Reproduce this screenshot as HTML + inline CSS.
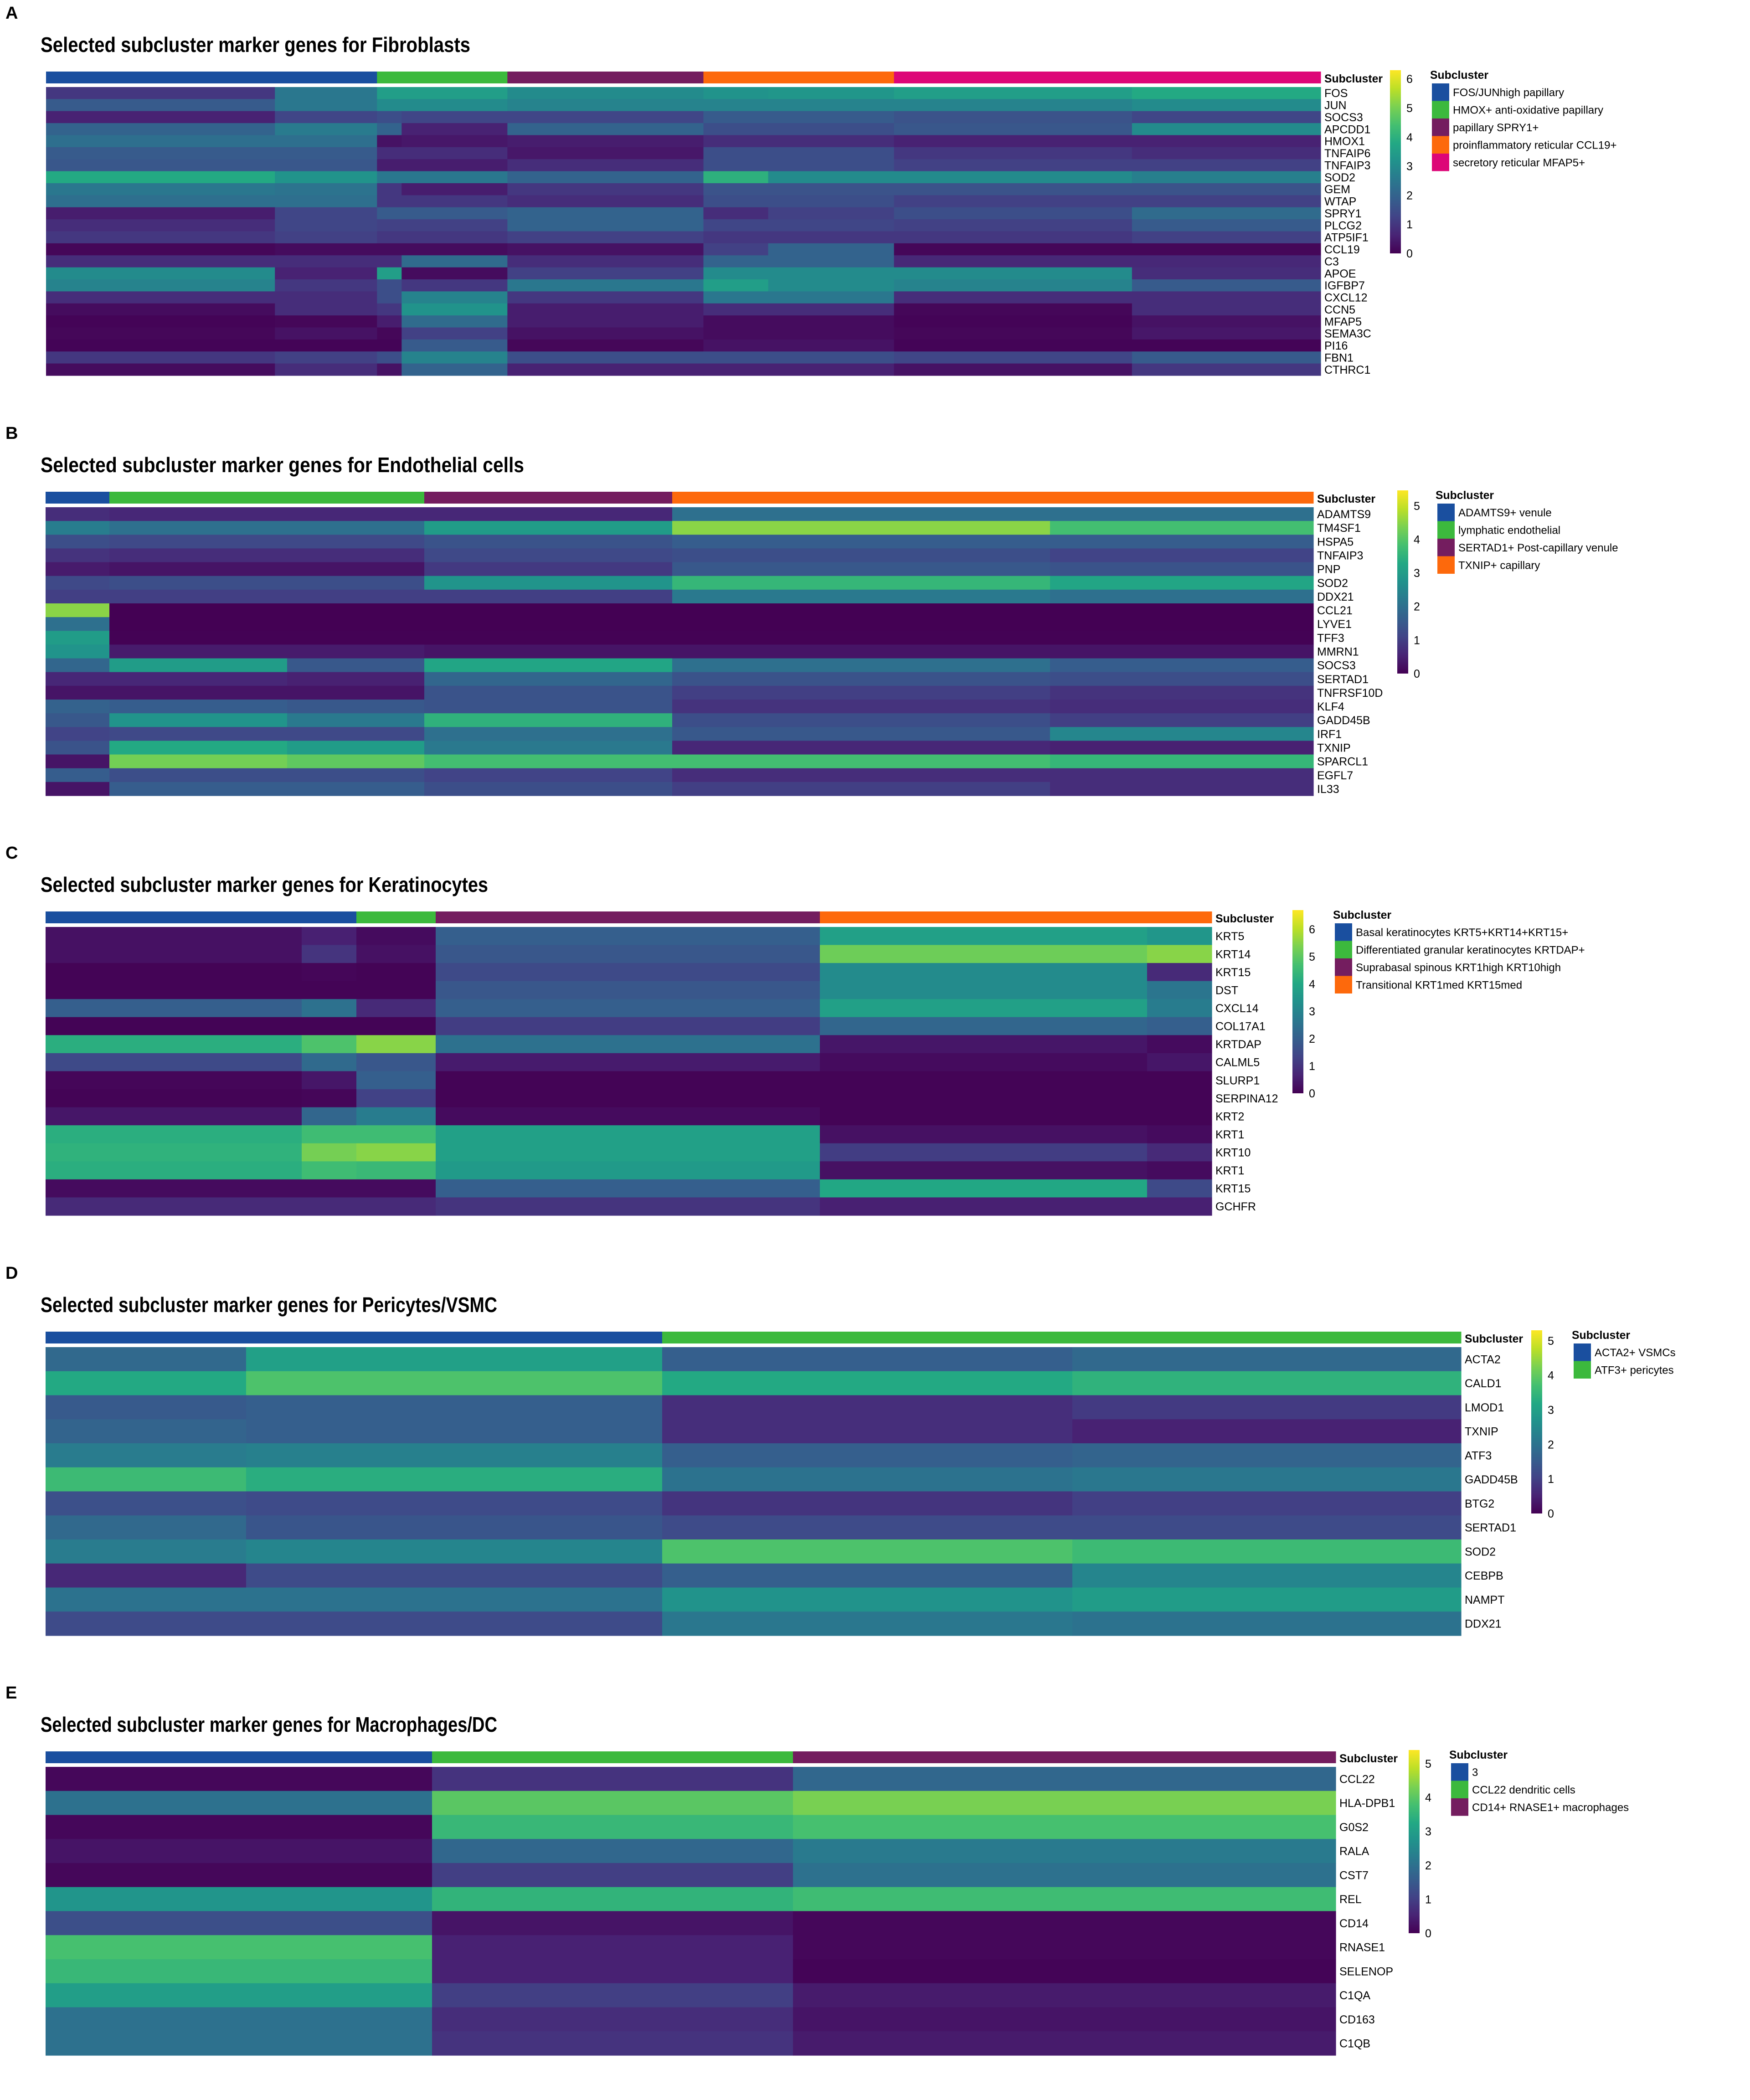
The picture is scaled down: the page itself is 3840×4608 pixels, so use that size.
<!DOCTYPE html>
<html><head><meta charset="utf-8"><style>
html,body{margin:0;padding:0;background:#fff;}
svg{display:block;font-family:"Liberation Sans",Arial,sans-serif;}
</style></head><body>
<svg id="fig" width="3840" height="4608" viewBox="0 0 3840 4608" xmlns="http://www.w3.org/2000/svg">
<defs>
<linearGradient id="viridis" x1="0" y1="1" x2="0" y2="0">
<stop offset="0" stop-color="#440154"/><stop offset="0.1" stop-color="#482475"/><stop offset="0.2" stop-color="#414487"/><stop offset="0.3" stop-color="#355f8d"/><stop offset="0.4" stop-color="#2a788e"/><stop offset="0.5" stop-color="#21918c"/><stop offset="0.6" stop-color="#22a884"/><stop offset="0.7" stop-color="#44bf70"/><stop offset="0.8" stop-color="#7ad151"/><stop offset="0.9" stop-color="#bddf26"/><stop offset="1" stop-color="#fde725"/>
</linearGradient>
</defs>
</svg>
<script>
// ---------- Panel A: Fibroblasts ----------
const fibGenes = ["FOS","JUN","SOCS3","APCDD1","HMOX1","TNFAIP6","TNFAIP3","SOD2","GEM","WTAP","SPRY1","PLCG2","ATP5IF1","CCL19","C3","APOE","IGFBP7","CXCL12","CCN5","MFAP5","SEMA3C","PI16","FBN1","CTHRC1"];
const fibClusters = ["FOS/JUNhigh papillary","HMOX+ anti-oxidative papillary","papillary SPRY1+","proinflammatory  reticular CCL19+","secretory reticular MFAP5+"];
const fibSegCells = [502,224,54,232,430,142,276,522,414];
const fibSegCluster = [0,0,1,1,2,3,3,4,4];
const fibValues = [
[1.0,2.5,3.5,3.5,3.0,3.2,3.3,3.5,3.8],
[1.8,2.5,3.0,3.0,2.8,2.8,2.8,2.8,3.0],
[0.6,1.3,1.5,1.3,1.3,1.8,1.8,1.6,1.3],
[2.0,2.6,2.0,0.6,2.0,1.5,1.5,1.7,3.0],
[2.3,2.3,0.3,0.4,0.5,0.8,0.8,0.6,0.6],
[1.8,1.8,0.8,0.8,0.4,1.5,1.5,1.0,0.8],
[1.7,1.7,0.5,0.5,0.8,1.5,1.5,1.2,1.2],
[3.8,3.2,2.5,2.5,2.0,4.0,3.0,3.0,2.7],
[2.5,2.4,1.0,0.5,1.0,1.6,1.6,1.6,1.6],
[2.3,2.3,1.0,1.0,0.8,1.5,1.5,1.2,1.2],
[0.5,1.3,1.8,1.8,2.0,0.8,1.2,1.5,2.2],
[0.8,1.3,1.2,1.2,2.0,1.3,1.3,1.2,1.8],
[1.0,1.2,1.0,1.0,1.2,1.0,1.0,1.0,1.2],
[0.1,0.2,0.2,0.2,0.3,1.2,2.0,0.1,0.1],
[0.8,0.8,0.8,2.2,0.8,2.0,2.0,0.7,0.7],
[3.0,0.6,3.5,0.2,1.2,3.0,3.0,3.0,0.8],
[2.8,1.0,1.5,1.0,2.5,3.5,3.0,2.8,1.8],
[0.8,0.8,1.5,2.8,1.0,2.5,2.5,0.8,0.8],
[0.2,0.8,1.0,3.2,0.5,0.8,0.8,0.1,0.8],
[0.05,0.1,0.5,2.2,0.5,0.2,0.2,0.05,0.3],
[0.1,0.3,0.1,1.2,0.3,0.2,0.2,0.1,0.4],
[0.05,0.05,0.05,1.8,0.1,0.3,0.3,0.05,0.05],
[1.0,1.2,1.5,2.8,1.5,1.5,1.5,1.3,1.8],
[0.2,0.8,0.3,2.0,0.6,0.6,0.6,0.3,1.0]];
const fibTicks = [0,1,2,3,4,5,6];

// ---------- Panel B: Endothelial ----------
const endGenes = ["ADAMTS9","TM4SF1","HSPA5","TNFAIP3","PNP","SOD2","DDX21","CCL21","LYVE1","TFF3","MMRN1","SOCS3","SERTAD1","TNFRSF10D","KLF4","GADD45B","IRF1","TXNIP","SPARCL1","EGFL7","IL33"];
const endClusters = ["ADAMTS9+ venule","lymphatic endothelial","SERTAD1+ Post-capillary venule","TXNIP+ capillary"];
const endSegCells = [140,390,301,544,829,578];
const endSegCluster = [0,1,1,2,3,3];
const endValues = [
[0.7,0.6,0.6,0.6,2.0,2.0],
[2.3,2.0,2.0,3.0,4.5,3.8],
[1.3,1.2,1.2,1.4,1.6,1.6],
[0.8,0.7,0.7,1.2,1.3,1.1],
[0.4,0.3,0.3,0.9,1.5,1.4],
[1.2,1.3,1.3,2.8,3.6,3.2],
[1.0,1.0,1.0,1.0,2.2,2.0],
[4.5,0.0,0.0,0.0,0.0,0.0],
[2.0,0.0,0.0,0.0,0.0,0.0],
[3.0,0.02,0.02,0.02,0.02,0.02],
[2.8,0.4,0.4,0.3,0.3,0.3],
[1.8,3.0,1.5,3.2,2.0,1.6],
[0.6,0.6,0.5,1.8,1.4,1.3],
[0.3,0.3,0.3,1.4,1.0,0.8],
[1.7,1.6,1.5,1.4,0.8,0.7],
[1.5,2.8,2.2,3.5,1.3,1.0],
[1.1,1.2,1.2,2.0,1.5,2.5],
[1.4,3.3,3.0,2.2,0.6,0.5],
[0.3,4.3,4.1,3.8,3.8,3.6],
[1.6,1.3,1.3,1.1,0.7,0.7],
[0.3,1.6,1.6,1.3,1.0,0.7]];
const endTicks = [0,1,2,3,4,5];

// ---------- Panel C: Keratinocytes ----------
const kerGenes = ["KRT5","KRT14","KRT15","DST","CXCL14","COL17A1","KRTDAP","CALML5","SLURP1","SERPINA12","KRT2","KRT1","KRT10","KRT1","KRT15","GCHFR"];
const kerClusters = ["Basal keratinocytes KRT5+KRT14+KRT15+","Differentiated granular keratinocytes KRTDAP+","Suprabasal spinous KRT1high KRT10high","Transitional KRT1med KRT15med"];
const kerSegCells = [562,120,174,843,718,142];
const kerSegCluster = [0,0,1,2,3,3];
const kerValues = [
[0.3,0.6,0.2,2.0,3.8,3.5],
[0.3,1.0,0.3,1.8,5.2,5.5],
[0.05,0.1,0.05,1.5,3.2,0.8],
[0.05,0.05,0.05,1.8,3.2,2.6],
[2.0,2.5,0.8,2.0,3.8,2.8],
[0.05,0.05,0.05,1.2,2.2,2.0],
[4.2,4.8,5.5,2.5,0.4,0.2],
[1.5,2.3,1.8,0.5,0.2,0.4],
[0.1,0.4,2.0,0.05,0.05,0.05],
[0.05,0.1,1.3,0.05,0.05,0.05],
[0.4,2.2,2.8,0.2,0.05,0.05],
[4.2,4.6,4.6,3.8,0.3,0.2],
[4.3,5.3,5.5,3.8,1.2,0.8],
[4.2,4.6,4.5,3.6,0.3,0.2],
[0.2,0.2,0.2,2.0,4.0,1.5],
[0.8,0.8,0.8,1.0,0.6,0.6]];
const kerTicks = [0,1,2,3,4,5,6];

// ---------- Panel D: Pericytes/VSMC ----------
const perGenes = ["ACTA2","CALD1","LMOD1","TXNIP","ATF3","GADD45B","BTG2","SERTAD1","SOD2","CEBPB","NAMPT","DDX21"];
const perClusters = ["ACTA2+  VSMCs","ATF3+ pericytes"];
const perSegCells = [440,913,900,853];
const perSegCluster = [0,0,1,1];
const perValues = [
[1.8,3.0,1.6,1.8],
[3.2,3.8,3.2,3.4],
[1.5,1.6,0.7,0.9],
[1.7,1.6,0.7,0.5],
[2.2,2.3,1.6,1.7],
[3.6,3.3,2.0,2.1],
[1.3,1.2,0.8,1.0],
[1.8,1.4,1.2,1.2],
[2.2,2.4,3.8,3.6],
[0.6,1.2,1.6,2.4],
[2.0,2.0,2.7,2.9],
[1.2,1.2,2.1,2.0]];
const perTicks = [0,1,2,3,4,5];

// ---------- Panel E: Macrophages/DC ----------
const macGenes = ["CCL22","HLA-DPB1","G0S2","RALA","CST7","REL","CD14","RNASE1","SELENOP","C1QA","CD163","C1QB"];
const macClusters = ["3","CCL22 dendritic cells","CD14+ RNASE1+ macrophages"];
const macSegCells = [848,792,1191];
const macSegCluster = [0,1,2];
const macValues = [
[0.1,0.8,1.8],
[2.0,4.0,4.3],
[0.1,3.6,3.8],
[0.3,1.8,2.2],
[0.1,1.0,2.0],
[2.8,3.5,3.7],
[1.3,0.3,0.1],
[3.8,0.5,0.1],
[3.6,0.5,0.05],
[3.0,1.0,0.4],
[2.0,0.7,0.3],
[2.0,0.8,0.4]];
const macTicks = [0,1,2,3,4,5];

const clusterColors = ["#1a4f9f","#3cb93d","#741d5f","#fd690c","#dd0677"];
const NS = "http://www.w3.org/2000/svg";
const svg = document.getElementById("fig");
const VIR = ["#440154","#482475","#414487","#355f8d","#2a788e","#21918c","#22a884","#44bf70","#7ad151","#bddf26","#fde725"];
function hex(h){return [parseInt(h.substr(1,2),16),parseInt(h.substr(3,2),16),parseInt(h.substr(5,2),16)];}
function viridis(t){
  t=Math.max(0,Math.min(1,t));
  const p=t*10, i=Math.min(9,Math.floor(p)), f=p-i;
  const a=hex(VIR[i]), b=hex(VIR[i+1]);
  return "rgb("+a.map((v,k)=>Math.round(v+(b[k]-v)*f)).join(",")+")";
}
function mk(tag, attrs, parent){
  const e=document.createElementNS(NS,tag);
  for(const k in attrs) e.setAttribute(k,attrs[k]);
  (parent||svg).appendChild(e);
  return e;
}

const panels = [
 {id:"a",letter:"A",title:"Selected subcluster marker genes for Fibroblasts",top:191,left:101,right:2898,genes:fibGenes,clusters:fibClusters,segCells:fibSegCells,segCluster:fibSegCluster,values:fibValues,ticks:fibTicks,vmax:6.3,cbX:3050,legX:3142},
 {id:"b",letter:"B",title:"Selected subcluster marker genes for Endothelial cells",top:1113,left:100,right:2882,genes:endGenes,clusters:endClusters,segCells:endSegCells,segCluster:endSegCluster,values:endValues,ticks:endTicks,vmax:5.46,cbX:3066,legX:3154},
 {id:"c",letter:"C",title:"Selected subcluster marker genes for Keratinocytes",top:2034,left:100,right:2659,genes:kerGenes,clusters:kerClusters,segCells:kerSegCells,segCluster:kerSegCluster,values:kerValues,ticks:kerTicks,vmax:6.7,cbX:2836,legX:2929},
 {id:"d",letter:"D",title:"Selected subcluster marker genes for Pericytes/VSMC",top:2956,left:100,right:3206,genes:perGenes,clusters:perClusters,segCells:perSegCells,segCluster:perSegCluster,values:perValues,ticks:perTicks,vmax:5.3,cbX:3360,legX:3453},
 {id:"e",letter:"E",title:"Selected subcluster marker genes for Macrophages/DC",top:3877,left:100,right:2931,genes:macGenes,clusters:macClusters,segCells:macSegCells,segCluster:macSegCluster,values:macValues,ticks:macTicks,vmax:5.4,cbX:3091,legX:3184}
];

panels.forEach(P=>{
  const H=633, W=P.right-P.left;
  const g=mk("g",{});
  
  

  const L=mk("text",{x:12,y:P.top-150,"font-size":38,"font-weight":"bold"},g);
  L.textContent=P.letter;
  
  

  const T=mk("text",{x:89,y:P.top-77,"font-size":46,"font-weight":"bold",textLength:Math.round(P.title.length*19.65),lengthAdjust:"spacingAndGlyphs"},g);
  T.textContent=P.title;
  
  

  const total=P.segCells.reduce((a,b)=>a+b,0);
  const xs=c=>P.left+W*c/total;
  const rowH=H/P.genes.length;
  // cluster bar from segments
  let cum=0; const cStart={}, cEnd={};
  P.segCells.forEach((n,i)=>{const c=P.segCluster[i]; if(!(c in cStart)) cStart[c]=cum; cum+=n; cEnd[c]=cum;});
  Object.keys(cStart).forEach(c=>{
    const x0=xs(cStart[c]), x1=xs(cEnd[c]);
    const r=mk("rect",{x:x0,y:P.top-34,width:x1-x0+0.5,height:26,fill:clusterColors[c]},g);
    
    
  });
  const sl=mk("text",{x:P.right+8,y:P.top-10,"font-size":25,"font-weight":"bold",textLength:128,lengthAdjust:"spacingAndGlyphs"},g);
  sl.textContent="Subcluster";
  
  

  // heatmap cells
  P.genes.forEach((gene,gi)=>{
    let c0=0;
    P.segCells.forEach((n,si)=>{
      const x0=xs(c0), x1=xs(c0+n); c0+=n;
      const cell=mk("rect",{x:x0,y:P.top+gi*rowH,width:x1-x0+0.6,height:rowH+0.6,fill:viridis(P.values[gi][si]/P.vmax)},g);
      
      
    });
    const gl=mk("text",{x:P.right+8,y:P.top+(gi+0.5)*rowH+9,"font-size":25},g);
    gl.textContent=gene;
    
    
  });

  // colorbar
  const cbTop=P.top-37, cbH=402, cbBot=cbTop+cbH;
  const cb=mk("rect",{x:P.cbX,y:cbTop,width:24,height:cbH,fill:"url(#viridis)"},g);
  
  
  P.ticks.forEach(t=>{
    const ty=cbBot-cbH*t/P.vmax;
    const tl=mk("text",{x:P.cbX+36,y:ty+9,"font-size":25},g);
    tl.textContent=String(t);
    
    
  });

  // legend
  const ly=P.top-8;
  const lt=mk("text",{x:P.legX-4,y:ly-10,"font-size":25,"font-weight":"bold",textLength:128,lengthAdjust:"spacingAndGlyphs"},g);
  lt.textContent="Subcluster";
  
  
  P.clusters.forEach((name,ci)=>{
    const sw=mk("rect",{x:P.legX,y:ly+ci*38.5,width:38,height:38.5,fill:clusterColors[ci]},g);
    
    
    const lx=mk("text",{x:P.legX+46,y:ly+ci*38.5+28,"font-size":24},g);
    lx.textContent=name;
    
    
  });
});
</script>
</body></html>
